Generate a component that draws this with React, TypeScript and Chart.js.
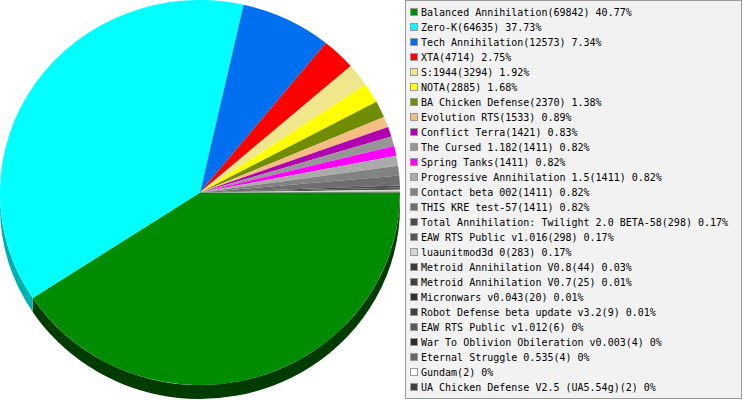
import React, { useEffect, useRef } from "react";
import { Chart, registerables } from "chart.js";

Chart.register(...registerables);

const categories: string[] = [
  "Balanced Annihilation",
  "Zero-K",
  "Tech Annihilation",
  "XTA",
  "S:1944",
  "NOTA",
  "BA Chicken Defense",
  "Evolution RTS",
  "Conflict Terra",
  "The Cursed 1.182",
  "Spring Tanks",
  "Progressive Annihilation 1.5",
  "Contact beta 002",
  "THIS KRE test-57",
  "Total Annihilation: Twilight 2.0 BETA-58",
  "EAW RTS Public v1.016",
  "luaunitmod3d 0",
  "Metroid Annihilation V0.8",
  "Metroid Annihilation V0.7",
  "Micronwars v0.043",
  "Robot Defense beta update v3.2",
  "EAW RTS Public v1.012",
  "War To Oblivion Obileration v0.003",
  "Eternal Struggle 0.535",
  "Gundam",
  "UA Chicken Defense V2.5 (UA5.54g)",
];

const values: number[] = [
  69842, 64635, 12573, 4714, 3294, 2885, 2370, 1533, 1421, 1411, 1411, 1411,
  1411, 1411, 298, 298, 283, 44, 25, 20, 9, 6, 4, 4, 2, 2,
];

const colors: string[] = [
  "#008c00", "#00ffff", "#0070f0", "#ff0000", "#f0e68c", "#ffff00",
  "#708c00", "#f4bd82", "#b000b0", "#969696", "#ff00ff", "#aaaaaa",
  "#828282", "#6e6e6e", "#4a4a4a", "#555555", "#d4d4d4", "#3c3c3c",
  "#404040", "#303030", "#3c3c3c", "#5a5a5a", "#2a2a2a", "#6a6a6a",
  "#ffffff", "#404040",
];

const SCALE_Y = 0.9625;
const DEPTH = 14.5;

function darken(hex: string, amt: number): string {
  const n = parseInt(hex.slice(1), 16);
  const r = Math.max(0, ((n >> 16) & 255) - amt);
  const g = Math.max(0, ((n >> 8) & 255) - amt);
  const b = Math.max(0, (n & 255) - amt);
  return `rgb(${r},${g},${b})`;
}

const total = values.reduce((a, b) => a + b, 0);
const labels = categories.map(
  (c, i) => `${c}(${values[i]}) ${Number(((values[i] / total) * 100).toFixed(2))}%`
);

const squashPlugin = {
  id: "squash",
  beforeDraw(chart: any) {
    chart.ctx.save();
    chart.ctx.scale(1, SCALE_Y);
  },
  afterDraw(chart: any) {
    chart.ctx.restore();
  },
};

const sidePlugin = {
  id: "side3d",
  beforeDatasetsDraw(chart: any) {
    const ctx = chart.ctx;
    const meta = chart.getDatasetMeta(0);
    meta.data.forEach((arc: any, i: number) => {
      const { x, y, startAngle, endAngle, outerRadius } = arc.getProps(
        ["x", "y", "startAngle", "endAngle", "outerRadius"],
        true
      );
      const a1 = Math.max(startAngle, 0);
      const a2 = Math.min(endAngle, Math.PI);
      if (a2 <= a1) return;
      ctx.save();
      ctx.beginPath();
      ctx.arc(x, y, outerRadius, a1, a2);
      ctx.arc(x, y + DEPTH, outerRadius, a2, a1, true);
      ctx.closePath();
      ctx.fillStyle = darken(colors[i], 80);
      ctx.fill();
      ctx.restore();
    });
  },
};

export default function App() {
  const canvasRef = useRef<HTMLCanvasElement | null>(null);

  useEffect(() => {
    if (!canvasRef.current) return;
    const chart = new Chart(canvasRef.current, {
      type: "pie",
      data: {
        labels: categories,
        datasets: [
          {
            data: values,
            backgroundColor: colors,
            borderWidth: 0,
          },
        ],
      },
      options: {
        responsive: false,
        animation: false,
        rotation: 90,
        layout: { padding: 0 },
        plugins: {
          legend: { display: false },
          tooltip: { enabled: false },
        },
        events: [],
      },
      plugins: [squashPlugin, sidePlugin],
    });
    return () => chart.destroy();
  }, []);

  return (
    <div style={{ position: "absolute", left: 0, top: 0, width: 743, height: 400 }}>
      <canvas
        ref={canvasRef}
        width={400}
        height={400}
        style={{ position: "absolute", left: 0, top: 0, width: 400, height: 400, display: "block" }}
      />
      <div
        style={{
          position: "absolute",
          left: 405,
          top: 0,
          width: 337,
          height: 399,
          boxSizing: "border-box",
          border: "1px solid #999999",
          background: "#f2f2f2",
        }}
      />
      {labels.map((t, i) => (
        <div
          key={i}
          style={{
            position: "absolute",
            left: 410,
            top: 5 + 15 * i,
            height: 15,
            lineHeight: "15px",
            fontFamily: "'DejaVu Sans Mono', monospace",
            fontSize: 10,
            color: "#000",
            whiteSpace: "pre",
          }}
        >
          <span
            style={{
              position: "absolute",
              left: 0,
              top: 3,
              width: 8,
              height: 8,
              boxSizing: "border-box",
              border: "1px solid #999999",
              background: colors[i],
            }}
          />
          <span style={{ position: "absolute", left: 11, top: 0 }}>{t}</span>
        </div>
      ))}
    </div>
  );
}
